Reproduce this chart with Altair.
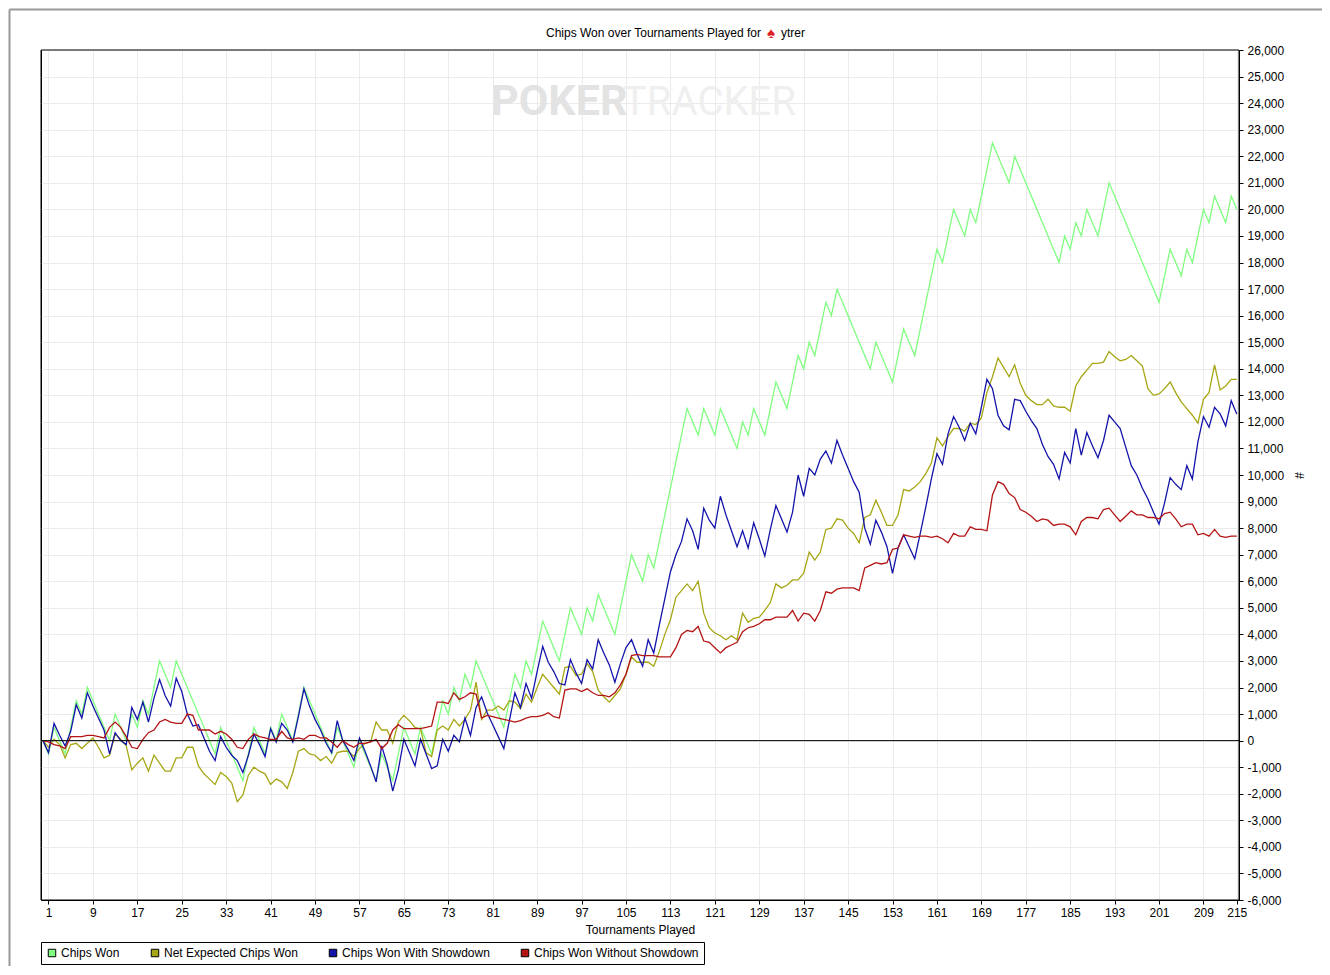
import altair as alt
import pandas as pd

# ---------------- data ----------------
tournaments = list(range(0, 216))

chips_won = [
    0, -500, 500, 0, -500, 500, 1500, 1000, 2000, 1500,
    1000, 500, 0, 1000, 500, 0, 1000, 500, 1500, 1000,
    2000, 3000, 2500, 2000, 3000, 2500, 2000, 1500, 1000, 500,
    0, -500, 500, 0, -500, -1000, -1500, -500, 500, 0,
    -500, 500, 0, 1000, 500, 0, 1000, 2000, 1500, 1000,
    500, 0, -500, 500, 0, -500, -1000, 0, -500, -1000,
    -1500, -500, -1000, -1500, -500, 500, 0, -500, 500, 0,
    -500, 500, 1500, 1000, 2000, 1500, 2500, 2000, 3000, 2500,
    2000, 1500, 1000, 500, 1500, 2500, 2000, 3000, 2500, 3500,
    4500, 4000, 3500, 3000, 4000, 5000, 4500, 4000, 5000, 4500,
    5500, 5000, 4500, 4000, 5000, 6000, 7000, 6500, 6000, 7000,
    6500, 7500, 8500, 9500, 10500, 11500, 12500, 12000, 11500, 12500,
    12000, 11500, 12500, 12000, 11500, 11000, 12000, 11500, 12500, 12000,
    11500, 12500, 13500, 13000, 12500, 13500, 14500, 14000, 15000, 14500,
    15500, 16500, 16000, 17000, 16500, 16000, 15500, 15000, 14500, 14000,
    15000, 14500, 14000, 13500, 14500, 15500, 15000, 14500, 15500, 16500,
    17500, 18500, 18000, 19000, 20000, 19500, 19000, 20000, 19500, 20500,
    21500, 22500, 22000, 21500, 21000, 22000, 21500, 21000, 20500, 20000,
    19500, 19000, 18500, 18000, 19000, 18500, 19500, 19000, 20000, 19500,
    19000, 20000, 21000, 20500, 20000, 19500, 19000, 18500, 18000, 17500,
    17000, 16500, 17500, 18500, 18000, 17500, 18500, 18000, 19000, 20000,
    19500, 20500, 20000, 19500, 20500, 20000,
]

net_expected = [
    0, -250, 50, -150, -650, -150, -100, -300, -100, 100,
    -250, -650, -550, 250, 50, -200, -1100, -850, -650, -1150,
    -550, -850, -1150, -1150, -650, -650, -250, -250, -950, -1250,
    -1450, -1650, -1200, -1350, -1600, -2300, -2050, -1300, -1000, -1150,
    -1250, -1650, -1450, -1550, -1800, -1200, -400, -300, -500, -550,
    -750, -600, -850, -450, -400, -400, -600, -300, -100, -50,
    700, 400, 400, -100, 700, 950, 750, 500, 450, -450,
    -600, 400, 550, 400, 800, 550, 800, 1150, 2200, 800,
    1150, 1150, 1300, 1150, 1500, 1450, 1200, 1750, 1450, 2000,
    2500, 2250, 2000, 1750, 2750, 2800, 2450, 2500, 2900, 2600,
    1900, 1650, 1450, 1700, 1950, 2500, 3150, 2950, 2950, 2950,
    2800, 3350, 4000, 4550, 5400, 5650, 5900, 5650, 6000, 4800,
    4250, 4050, 3950, 3800, 3950, 3800, 4800, 4450, 4600, 4650,
    4900, 5200, 5900, 5750, 5850, 6050, 6050, 6300, 7100, 6800,
    7100, 7950, 8000, 8350, 8300, 8000, 7800, 7450, 8400, 8500,
    9050, 8600, 8100, 8100, 8500, 9450, 9400, 9550, 9750, 10050,
    10450, 11400, 11100, 11450, 11750, 11750, 11650, 11950, 11900, 12150,
    13100, 13700, 14400, 14050, 13700, 14150, 13450, 13000, 12800, 12650,
    12650, 12850, 12600, 12550, 12550, 12400, 13350, 13700, 13950, 14200,
    14200, 14250, 14650, 14450, 14300, 14350, 14500, 14300, 14100, 13250,
    13000, 13050, 13250, 13500, 13100, 12750, 12500, 12250, 11950, 12850,
    13100, 14150, 13200, 13350, 13600, 13600,
]

with_showdown = [
    0, -450, 650, 200, -200, 350, 1350, 850, 1800, 1300,
    850, 400, -500, 300, 0, -150, 1250, 800, 1450, 700,
    1600, 2300, 1700, 1300, 2350, 1850, 1000, 550, 600, 100,
    -400, -750, 150, -250, -550, -750, -1200, -550, 250, -150,
    -600, 450, -50, 650, 400, -50, 900, 1950, 1300, 800,
    400, -100, -450, 750, 0, -350, -750, 100, -400, -950,
    -1550, -200, -900, -1900, -1100, 50, -450, -950, 50, -500,
    -1050, -950, 50, -400, 200, -50, 850, 200, 1250, 1650,
    1050, 600, 150, -300, 750, 1800, 1250, 2150, 1600, 2600,
    3550, 2950, 2600, 2150, 2100, 3050, 2550, 2150, 3050, 2700,
    3800, 3300, 2850, 2200, 2900, 3500, 3800, 3250, 2800, 3800,
    3300, 4350, 5350, 6350, 7000, 7500, 8350, 7900, 7200, 8750,
    8300, 8000, 9200, 8500, 7900, 7300, 7900, 7250, 8200, 7600,
    6950, 7950, 8850, 8350, 7850, 8600, 10000, 9200, 10250, 10000,
    10600, 10900, 10450, 11300, 10750, 10250, 9750, 9350, 8000, 7400,
    8300, 7850, 7300, 6300, 7250, 7750, 7300, 6850, 7800, 8800,
    9850, 10800, 10400, 11550, 12200, 11800, 11300, 11950, 11550, 12550,
    13600, 13250, 12250, 11850, 11700, 12850, 12800, 12400, 12050, 11750,
    11150, 10700, 10400, 9850, 10850, 10450, 11750, 10750, 11600, 11100,
    10650, 11300, 12250, 12000, 11750, 11050, 10350, 10000, 9500, 9100,
    8600, 8150, 8950, 9900, 9650, 9450, 10350, 9850, 11250, 12200,
    11800, 12550, 12300, 11850, 12800, 12300,
]

without_showdown = [
    0, -50, -150, -200, -300, 150, 150, 150, 200, 200,
    150, 100, 500, 700, 500, 150, -250, -300, 50, 300,
    400, 700, 800, 700, 650, 650, 1000, 950, 400, 400,
    400, 250, 350, 250, 50, -250, -300, 50, 250, 150,
    100, 50, 50, 350, 100, 50, 100, 50, 200, 200,
    100, 100, -50, -250, 0, -150, -250, -100, -100, -50,
    50, -300, -100, 400, 600, 450, 450, 450, 450, 500,
    550, 1450, 1450, 1400, 1800, 1550, 1650, 1800, 1750, 850,
    950, 900, 850, 800, 750, 700, 750, 850, 900, 900,
    950, 1050, 900, 850, 1900, 1950, 1950, 1850, 1950, 1800,
    1700, 1700, 1650, 1800, 2100, 2500, 3200, 3250, 3200, 3200,
    3200, 3150, 3150, 3150, 3500, 4000, 4150, 4100, 4300, 3750,
    3700, 3500, 3300, 3500, 3600, 3700, 4100, 4250, 4300, 4400,
    4550, 4550, 4650, 4650, 4650, 4900, 4500, 4800, 4750, 4500,
    4900, 5600, 5550, 5700, 5750, 5750, 5750, 5650, 6500, 6600,
    6700, 6650, 6700, 7200, 7250, 7750, 7700, 7650, 7700, 7700,
    7650, 7700, 7600, 7450, 7800, 7700, 7700, 8050, 7950, 7950,
    7900, 9250, 9750, 9650, 9300, 9150, 8700, 8600, 8450, 8250,
    8350, 8300, 8100, 8150, 8150, 8050, 7750, 8250, 8400, 8400,
    8350, 8700, 8750, 8500, 8250, 8450, 8650, 8500, 8500, 8400,
    8400, 8350, 8550, 8600, 8350, 8050, 8150, 8150, 7750, 7800,
    7700, 7950, 7700, 7650, 7700, 7700,
]

series_names = ["Chips Won", "Net Expected Chips Won",
                "Chips Won With Showdown", "Chips Won Without Showdown"]
series_colors = ["#80ff80", "#a6a614", "#1414aa", "#b41414"]
x_ticks = [1, 9, 17, 25, 33, 41, 49, 57, 65, 73, 81, 89, 97, 105, 113,
           121, 129, 137, 145, 153, 161, 169, 177, 185, 193, 201, 209, 215]
y_ticks = [-6000, -5000, -4000, -3000, -2000, -1000, 0, 1000, 2000, 3000, 4000,
           5000, 6000, 7000, 8000, 9000, 10000, 11000, 12000, 13000, 14000, 15000,
           16000, 17000, 18000, 19000, 20000, 21000, 22000, 23000, 24000, 25000, 26000]
zero_line = [0]

FONT = "Liberation Sans"

# ---------------- long table ----------------
rows = []
for name, vals in zip(series_names, [chips_won, net_expected, with_showdown, without_showdown]):
    for t, v in zip(tournaments, vals):
        rows.append({"t": t, "v": v, "series": name})
df = pd.DataFrame(rows)
first_rows = df[df["t"] == 0]
one = pd.DataFrame({"a": [0]})
zero_df = pd.DataFrame({"v": zero_line})

# ---------------- layers ----------------
frame_top = alt.Chart(one).mark_rule(color="#9a9a9a", strokeWidth=2).encode(
    x=alt.value(-31.5), x2=alt.value(1281), y=alt.value(-40.5)
)
frame_left = alt.Chart(one).mark_rule(color="#9a9a9a", strokeWidth=2).encode(
    x=alt.value(-31.5), y=alt.value(-40.5), y2=alt.value(1000)
)
plot_border = alt.Chart(one).mark_rect(fill="transparent", stroke="black", strokeWidth=1).encode(
    x=alt.value(0), x2=alt.value(1198), y=alt.value(0), y2=alt.value(850)
)

wm_poker = alt.Chart(one).mark_text(
    text="POKER", font="Roboto", fontWeight="bold", fontSize=43, color="#e3e3e3",
    align="left", baseline="alphabetic"
).encode(x=alt.value(450), y=alt.value(65))
wm_tracker = alt.Chart(one).mark_text(
    text="TRACKER", font="Roboto", fontSize=40, color="#efefef",
    align="left", baseline="alphabetic"
).encode(x=alt.value(582), y=alt.value(65))

title_main = alt.Chart(one).mark_text(
    text="Chips Won over Tournaments Played for", font=FONT, fontSize=12, color="black",
    align="right", baseline="middle"
).encode(x=alt.value(720), y=alt.value(-17))
title_icon = alt.Chart(one).mark_text(
    text="\u2660", fontSize=15, color="#e02020", align="center", baseline="middle"
).encode(x=alt.value(730), y=alt.value(-17))
title_name = alt.Chart(one).mark_text(
    text="ytrer", font=FONT, fontSize=12, color="black", align="left", baseline="middle"
).encode(x=alt.value(740), y=alt.value(-17))


def x_enc():
    return alt.X(
        "t:Q",
        scale=alt.Scale(domain=[-0.35, 215.4], nice=False, zero=False),
        axis=alt.Axis(values=x_ticks, format="d", title="Tournaments Played",
                      labelOverlap=False, labelFlush=False, labelPadding=3,
                      titlePadding=6, grid=True),
    )


def y_enc():
    return alt.Y(
        "v:Q",
        scale=alt.Scale(domain=[-6000, 26000], nice=False, zero=False),
        axis=alt.Axis(orient="right", values=y_ticks, title="#", titleAngle=90, grid=True,
                      labelExpr="(datum.value < 0 ? '-' : '') + format(abs(datum.value), ',')",
                      labelOverlap=False, labelFlush=False, labelPadding=4, titlePadding=8),
    )


color_scale = alt.Scale(domain=series_names, range=series_colors)

zero_rule = alt.Chart(zero_df).mark_rule(color="black", strokeWidth=1).encode(y=y_enc())

lines = alt.Chart(df).mark_line(strokeWidth=1.3, clip=True).encode(
    x=x_enc(), y=y_enc(),
    color=alt.Color("series:N", scale=color_scale, legend=None),
)

legend_swatches = alt.Chart(first_rows).mark_square(opacity=0, size=10).encode(
    x=x_enc(), y=y_enc(),
    color=alt.Color(
        "series:N", scale=color_scale,
        legend=alt.Legend(
            orient="none", legendX=0, legendY=892, direction="horizontal", title=None,
            symbolType="square", symbolSize=56, symbolStrokeColor="black",
            symbolStrokeWidth=1, symbolOpacity=1, labelLimit=400,
            labelFont=FONT, labelFontSize=12, labelColor="black", labelOffset=3,
            columnPadding=29, padding=5, strokeColor="black", fillColor="white",
        ),
    ),
)

chart = alt.layer(
    frame_top, frame_left, wm_poker, wm_tracker, title_main, title_icon, title_name,
    lines, zero_rule, legend_swatches, plot_border
).resolve_scale(
    color="independent"
).properties(
    width=1198, height=850,
    padding={"left": 33, "top": 42, "right": 83, "bottom": 66},
    autosize=alt.AutoSizeParams(type="none"),
    background="white",
).configure_view(
    stroke="black", strokeWidth=1
).configure_axis(
    domainColor="black", tickColor="black", tickSize=4, labelColor="black",
    labelFont=FONT, labelFontSize=12, titleFont=FONT, titleFontSize=12,
    titleFontWeight="normal", titleColor="black", gridColor="#ebebeb", gridWidth=1,
)

chart.save("out.html", embed_options={"renderer": "svg", "actions": False})
